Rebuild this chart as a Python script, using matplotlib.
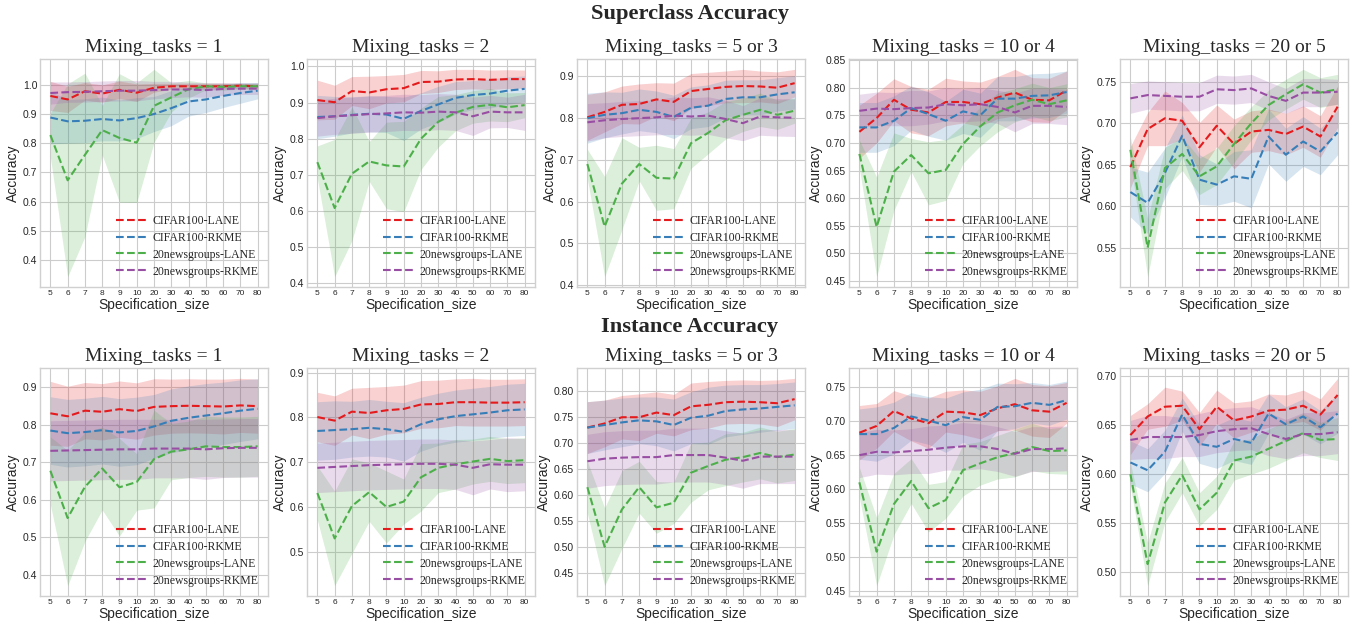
import matplotlib
matplotlib.use("Agg")
import matplotlib.pyplot as plt
import numpy as np

plt.style.use("seaborn-v0_8-whitegrid")

spec_sizes = ["5", "6", "7", "8", "9", "10", "20", "30", "40", "50", "60", "70", "80"]
series_names = ["CIFAR100-LANE", "CIFAR100-RKME", "20newsgroups-LANE", "20newsgroups-RKME"]
colors = ["#e41a1c", "#377eb8", "#4daf4a", "#984ea3"]
panel_titles = ["Mixing_tasks = 1", "Mixing_tasks = 2", "Mixing_tasks = 5 or 3",
                "Mixing_tasks = 10 or 4", "Mixing_tasks = 20 or 5"]

# ---- Superclass accuracy: means (order: red, blue, green, purple) ----
sup_mean_1 = [
    [0.962, 0.950, 0.978, 0.970, 0.983, 0.973, 0.990, 0.995, 0.995, 0.995, 0.995, 0.997, 0.995],
    [0.888, 0.875, 0.877, 0.883, 0.878, 0.886, 0.900, 0.920, 0.943, 0.950, 0.962, 0.972, 0.980],
    [0.828, 0.673, 0.760, 0.845, 0.818, 0.802, 0.928, 0.957, 0.985, 0.995, 0.993, 0.995, 0.995],
    [0.972, 0.975, 0.976, 0.978, 0.980, 0.980, 0.982, 0.984, 0.984, 0.982, 0.986, 0.987, 0.987],
]
sup_std_1 = [
    [0.05, 0.045, 0.03, 0.03, 0.03, 0.03, 0.015, 0.01, 0.01, 0.01, 0.01, 0.008, 0.008],
    [0.09, 0.075, 0.075, 0.075, 0.07, 0.07, 0.06, 0.06, 0.05, 0.045, 0.04, 0.035, 0.028],
    [0.075, 0.33, 0.28, 0.085, 0.22, 0.205, 0.125, 0.05, 0.03, 0.012, 0.012, 0.01, 0.01],
    [0.038, 0.035, 0.035, 0.035, 0.035, 0.035, 0.03, 0.028, 0.025, 0.025, 0.022, 0.02, 0.02],
]
sup_mean_2 = [
    [0.907, 0.901, 0.932, 0.928, 0.937, 0.940, 0.957, 0.958, 0.964, 0.965, 0.963, 0.965, 0.965],
    [0.860, 0.862, 0.866, 0.869, 0.867, 0.855, 0.877, 0.895, 0.913, 0.921, 0.925, 0.933, 0.938],
    [0.735, 0.608, 0.703, 0.737, 0.726, 0.723, 0.800, 0.847, 0.872, 0.888, 0.894, 0.887, 0.893],
    [0.857, 0.862, 0.865, 0.868, 0.870, 0.873, 0.872, 0.875, 0.873, 0.862, 0.875, 0.873, 0.873],
]
sup_std_2 = [
    [0.055, 0.047, 0.04, 0.045, 0.038, 0.038, 0.032, 0.03, 0.028, 0.027, 0.027, 0.026, 0.025],
    [0.06, 0.055, 0.05, 0.05, 0.05, 0.06, 0.05, 0.05, 0.045, 0.04, 0.04, 0.038, 0.036],
    [0.045, 0.19, 0.185, 0.055, 0.12, 0.125, 0.085, 0.07, 0.05, 0.045, 0.045, 0.04, 0.035],
    [0.05, 0.05, 0.05, 0.05, 0.05, 0.05, 0.05, 0.05, 0.05, 0.053, 0.045, 0.042, 0.05],
]
sup_mean_3 = [
    [0.802, 0.815, 0.832, 0.834, 0.845, 0.839, 0.865, 0.870, 0.875, 0.877, 0.876, 0.873, 0.884],
    [0.800, 0.808, 0.812, 0.820, 0.815, 0.803, 0.825, 0.830, 0.846, 0.850, 0.850, 0.857, 0.862],
    [0.690, 0.540, 0.643, 0.690, 0.657, 0.655, 0.740, 0.765, 0.795, 0.808, 0.820, 0.808, 0.818],
    [0.790, 0.795, 0.798, 0.800, 0.802, 0.806, 0.804, 0.806, 0.798, 0.788, 0.804, 0.802, 0.801],
]
sup_std_3 = [
    [0.055, 0.048, 0.045, 0.048, 0.04, 0.045, 0.042, 0.04, 0.038, 0.04, 0.037, 0.038, 0.033],
    [0.06, 0.055, 0.05, 0.05, 0.05, 0.052, 0.05, 0.05, 0.045, 0.042, 0.042, 0.04, 0.04],
    [0.035, 0.12, 0.11, 0.04, 0.078, 0.072, 0.06, 0.05, 0.045, 0.04, 0.04, 0.035, 0.03],
    [0.045, 0.042, 0.042, 0.042, 0.042, 0.045, 0.045, 0.045, 0.045, 0.042, 0.045, 0.045, 0.045],
]
sup_mean_4 = [
    [0.720, 0.745, 0.778, 0.760, 0.755, 0.774, 0.774, 0.770, 0.782, 0.791, 0.778, 0.777, 0.795],
    [0.728, 0.728, 0.740, 0.763, 0.752, 0.740, 0.757, 0.750, 0.780, 0.780, 0.785, 0.786, 0.792],
    [0.680, 0.548, 0.648, 0.678, 0.645, 0.651, 0.698, 0.730, 0.755, 0.768, 0.778, 0.770, 0.777],
    [0.758, 0.762, 0.761, 0.763, 0.764, 0.770, 0.768, 0.770, 0.765, 0.755, 0.767, 0.767, 0.765],
]
sup_std_4 = [
    [0.048, 0.045, 0.038, 0.042, 0.042, 0.043, 0.038, 0.04, 0.038, 0.042, 0.04, 0.04, 0.035],
    [0.045, 0.045, 0.045, 0.04, 0.04, 0.035, 0.04, 0.04, 0.04, 0.04, 0.04, 0.04, 0.038],
    [0.025, 0.09, 0.07, 0.03, 0.057, 0.055, 0.035, 0.035, 0.035, 0.03, 0.03, 0.03, 0.03],
    [0.03, 0.03, 0.03, 0.032, 0.03, 0.03, 0.03, 0.03, 0.03, 0.035, 0.032, 0.032, 0.032],
]
sup_mean_5 = [
    [0.647, 0.693, 0.706, 0.703, 0.671, 0.697, 0.675, 0.690, 0.692, 0.687, 0.696, 0.684, 0.720],
    [0.617, 0.604, 0.640, 0.685, 0.632, 0.626, 0.636, 0.633, 0.684, 0.662, 0.678, 0.666, 0.689],
    [0.668, 0.550, 0.646, 0.663, 0.636, 0.648, 0.675, 0.700, 0.722, 0.735, 0.747, 0.737, 0.741],
    [0.730, 0.734, 0.733, 0.732, 0.732, 0.741, 0.740, 0.742, 0.733, 0.727, 0.737, 0.737, 0.738],
]
sup_std_5 = [
    [0.025, 0.02, 0.033, 0.022, 0.03, 0.025, 0.03, 0.025, 0.025, 0.025, 0.025, 0.025, 0.025],
    [0.03, 0.037, 0.03, 0.025, 0.03, 0.025, 0.03, 0.035, 0.033, 0.032, 0.03, 0.028, 0.027],
    [0.015, 0.035, 0.025, 0.02, 0.022, 0.022, 0.022, 0.02, 0.018, 0.018, 0.018, 0.018, 0.018],
    [0.018, 0.017, 0.017, 0.017, 0.017, 0.017, 0.017, 0.017, 0.017, 0.015, 0.017, 0.017, 0.015],
]

# ---- Instance accuracy ----
ins_mean_1 = [
    [0.830, 0.822, 0.837, 0.834, 0.841, 0.836, 0.847, 0.849, 0.850, 0.849, 0.848, 0.851, 0.849],
    [0.784, 0.777, 0.780, 0.785, 0.779, 0.783, 0.795, 0.810, 0.818, 0.824, 0.830, 0.837, 0.842],
    [0.677, 0.551, 0.634, 0.683, 0.633, 0.647, 0.708, 0.728, 0.734, 0.742, 0.740, 0.740, 0.742],
    [0.730, 0.731, 0.732, 0.733, 0.734, 0.734, 0.736, 0.736, 0.736, 0.734, 0.737, 0.738, 0.738],
]
ins_std_1 = [
    [0.085, 0.08, 0.075, 0.075, 0.075, 0.075, 0.075, 0.072, 0.072, 0.072, 0.073, 0.072, 0.072],
    [0.09, 0.09, 0.09, 0.09, 0.09, 0.09, 0.085, 0.085, 0.085, 0.085, 0.083, 0.082, 0.08],
    [0.09, 0.18, 0.145, 0.11, 0.13, 0.075, 0.13, 0.075, 0.075, 0.08, 0.08, 0.08, 0.08],
    [0.08, 0.08, 0.08, 0.08, 0.08, 0.08, 0.078, 0.078, 0.078, 0.08, 0.078, 0.078, 0.078],
]
ins_mean_2 = [
    [0.801, 0.793, 0.813, 0.810, 0.816, 0.819, 0.829, 0.830, 0.834, 0.834, 0.833, 0.833, 0.834],
    [0.770, 0.772, 0.774, 0.777, 0.774, 0.768, 0.785, 0.796, 0.803, 0.807, 0.811, 0.816, 0.818],
    [0.632, 0.531, 0.603, 0.634, 0.601, 0.613, 0.667, 0.688, 0.696, 0.702, 0.708, 0.703, 0.705],
    [0.688, 0.690, 0.692, 0.694, 0.695, 0.696, 0.697, 0.697, 0.695, 0.688, 0.696, 0.695, 0.695],
]
ins_std_2 = [
    [0.055, 0.055, 0.052, 0.057, 0.053, 0.053, 0.053, 0.053, 0.052, 0.053, 0.052, 0.052, 0.052],
    [0.065, 0.065, 0.062, 0.063, 0.062, 0.065, 0.06, 0.058, 0.058, 0.058, 0.058, 0.058, 0.058],
    [0.06, 0.105, 0.105, 0.065, 0.08, 0.05, 0.075, 0.055, 0.055, 0.05, 0.05, 0.05, 0.05],
    [0.055, 0.055, 0.055, 0.055, 0.055, 0.055, 0.055, 0.055, 0.055, 0.06, 0.055, 0.06, 0.058],
]
ins_mean_3 = [
    [0.730, 0.738, 0.750, 0.750, 0.759, 0.754, 0.771, 0.774, 0.779, 0.780, 0.779, 0.777, 0.785],
    [0.730, 0.735, 0.740, 0.744, 0.742, 0.735, 0.749, 0.753, 0.762, 0.765, 0.767, 0.770, 0.773],
    [0.615, 0.500, 0.572, 0.615, 0.576, 0.585, 0.643, 0.656, 0.668, 0.673, 0.681, 0.673, 0.678],
    [0.665, 0.670, 0.672, 0.673, 0.673, 0.677, 0.677, 0.677, 0.672, 0.666, 0.674, 0.674, 0.674],
]
ins_std_3 = [
    [0.05, 0.045, 0.042, 0.045, 0.04, 0.04, 0.045, 0.045, 0.042, 0.042, 0.042, 0.045, 0.04],
    [0.05, 0.048, 0.047, 0.045, 0.047, 0.05, 0.05, 0.055, 0.05, 0.048, 0.046, 0.045, 0.045],
    [0.05, 0.075, 0.075, 0.05, 0.05, 0.04, 0.057, 0.046, 0.05, 0.048, 0.05, 0.05, 0.05],
    [0.052, 0.052, 0.052, 0.052, 0.052, 0.052, 0.052, 0.052, 0.052, 0.053, 0.052, 0.052, 0.052],
]
ins_mean_4 = [
    [0.683, 0.693, 0.715, 0.704, 0.697, 0.714, 0.713, 0.709, 0.719, 0.725, 0.716, 0.714, 0.727],
    [0.681, 0.681, 0.690, 0.707, 0.701, 0.694, 0.706, 0.702, 0.721, 0.722, 0.727, 0.724, 0.731],
    [0.610, 0.508, 0.578, 0.612, 0.572, 0.584, 0.628, 0.638, 0.647, 0.653, 0.662, 0.656, 0.657],
    [0.650, 0.655, 0.654, 0.656, 0.658, 0.661, 0.663, 0.663, 0.659, 0.652, 0.659, 0.659, 0.660],
]
ins_std_4 = [
    [0.04, 0.033, 0.03, 0.033, 0.037, 0.03, 0.033, 0.035, 0.033, 0.038, 0.038, 0.038, 0.03],
    [0.037, 0.04, 0.038, 0.035, 0.035, 0.04, 0.037, 0.045, 0.035, 0.033, 0.03, 0.03, 0.028],
    [0.022, 0.05, 0.045, 0.033, 0.035, 0.027, 0.038, 0.032, 0.032, 0.035, 0.035, 0.033, 0.035],
    [0.033, 0.033, 0.033, 0.033, 0.035, 0.033, 0.035, 0.033, 0.033, 0.033, 0.033, 0.033, 0.033],
]
ins_mean_5 = [
    [0.640, 0.659, 0.669, 0.670, 0.646, 0.669, 0.655, 0.659, 0.665, 0.666, 0.670, 0.661, 0.681],
    [0.612, 0.604, 0.623, 0.661, 0.631, 0.628, 0.636, 0.632, 0.662, 0.651, 0.659, 0.648, 0.662],
    [0.600, 0.508, 0.571, 0.599, 0.564, 0.581, 0.614, 0.618, 0.626, 0.634, 0.642, 0.635, 0.636],
    [0.635, 0.638, 0.638, 0.638, 0.640, 0.644, 0.646, 0.647, 0.641, 0.636, 0.641, 0.641, 0.643],
]
ins_std_5 = [
    [0.02, 0.013, 0.02, 0.015, 0.017, 0.017, 0.018, 0.016, 0.017, 0.015, 0.016, 0.016, 0.017],
    [0.022, 0.022, 0.022, 0.017, 0.02, 0.022, 0.022, 0.022, 0.02, 0.018, 0.018, 0.017, 0.02],
    [0.012, 0.022, 0.02, 0.018, 0.017, 0.017, 0.02, 0.018, 0.02, 0.02, 0.02, 0.018, 0.022],
    [0.02, 0.022, 0.022, 0.02, 0.022, 0.022, 0.022, 0.022, 0.022, 0.02, 0.022, 0.022, 0.022],
]

sup_means = [sup_mean_1, sup_mean_2, sup_mean_3, sup_mean_4, sup_mean_5]
sup_stds = [sup_std_1, sup_std_2, sup_std_3, sup_std_4, sup_std_5]
ins_means = [ins_mean_1, ins_mean_2, ins_mean_3, ins_mean_4, ins_mean_5]
ins_stds = [ins_std_1, ins_std_2, ins_std_3, ins_std_4, ins_std_5]

fig = plt.figure(figsize=(13.57, 6.25), dpi=100)

lefts = [40, 307, 577, 849, 1120]
row_tops = [59, 368]
W, H = 1357.0, 625.0
aw, ah = 228, 228

x = np.arange(len(spec_sizes))

def draw_panel(ax, means, stds, title):
    for k in range(4):
        m = np.array(means[k])
        s = np.array(stds[k])
        ax.fill_between(x, m - s, m + s, color=colors[k], alpha=0.2, linewidth=0)
        ax.plot(x, m, linestyle="--", color=colors[k], linewidth=1.5, label=series_names[k])
    ax.set_xticks(x)
    ax.set_xticklabels(spec_sizes, fontsize=6)
    ax.tick_params(axis="y", labelsize=7.5, pad=2)
    ax.tick_params(axis="x", pad=2)
    ax.set_title(title, fontsize=14, family="Liberation Serif", pad=5)
    ax.set_xlabel("Specification_size", fontsize=10, family="Liberation Sans", labelpad=1)
    ax.set_ylabel("Accuracy", fontsize=10, family="Liberation Sans", labelpad=2)
    ax.legend(loc="lower right", frameon=False, prop={"family": "Liberation Serif", "size": 8.5},
              handlelength=2.6, handletextpad=0.5, labelspacing=0.42, borderaxespad=0.4)
    for sp in ax.spines.values():
        sp.set_visible(True)
        sp.set_color("#d0d0d0")

for r, (means_row, stds_row) in enumerate([(sup_means, sup_stds), (ins_means, ins_stds)]):
    for c in range(5):
        left = lefts[c] / W
        bottom = 1 - (row_tops[r] + ah) / H
        ax = fig.add_axes([left, bottom, aw / W, ah / H])
        draw_panel(ax, means_row[c], stds_row[c], panel_titles[c])

fig.text(690 / W, 1 - 14 / H, "Superclass Accuracy", ha="center", va="center",
         fontsize=16.2, fontweight="bold", family="Liberation Serif")
fig.text(690 / W, 1 - 327 / H, "Instance Accuracy", ha="center", va="center",
         fontsize=16.2, fontweight="bold", family="Liberation Serif")

fig.savefig("out.png", dpi=100)
